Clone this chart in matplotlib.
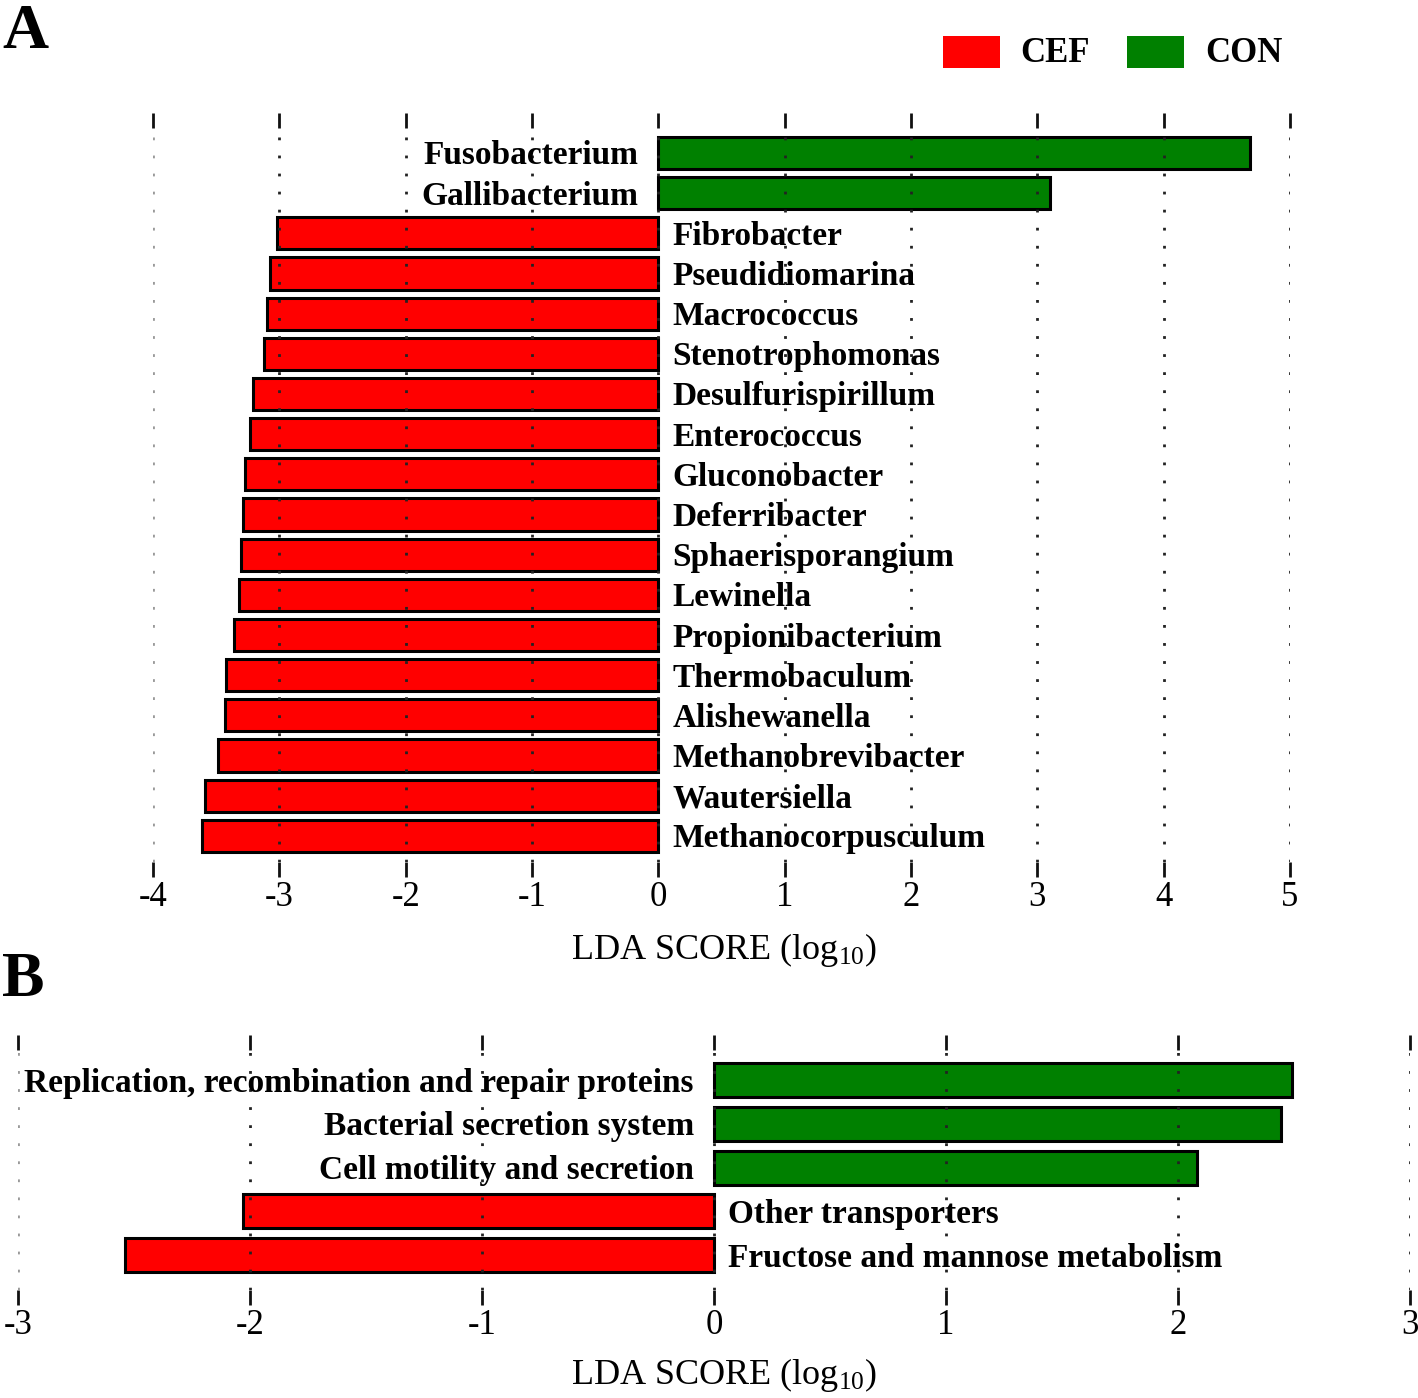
import matplotlib
matplotlib.use("Agg")
import matplotlib.pyplot as plt
from matplotlib.patches import Rectangle

plt.rcParams['font.family'] = ['Liberation Serif', 'DejaVu Serif']
plt.rcParams['mathtext.fontset'] = 'custom'
plt.rcParams['mathtext.rm'] = 'Liberation Serif'
plt.rcParams['mathtext.it'] = 'Liberation Serif:italic'

# ---- Data ----
genera = ["Fusobacterium", "Gallibacterium", "Fibrobacter", "Pseudidiomarina",
          "Macrococcus", "Stenotrophomonas", "Desulfurispirillum", "Enterococcus",
          "Gluconobacter", "Deferribacter", "Sphaerisporangium", "Lewinella",
          "Propionibacterium", "Thermobaculum", "Alishewanella",
          "Methanobrevibacter", "Wautersiella", "Methanocorpusculum"]
lda_genera = [4.68, 3.10, -3.02, -3.07, -3.10, -3.12, -3.21, -3.235, -3.27,
              -3.29, -3.30, -3.32, -3.36, -3.42, -3.43, -3.485, -3.59, -3.61]

pathways = ["Replication, recombination and repair proteins",
            "Bacterial secretion system", "Cell motility and secretion",
            "Other transporters", "Fructose and mannose metabolism"]
lda_pathways = [2.49, 2.445, 2.08, -2.03, -2.54]

ticks_a = [-4, -3, -2, -1, 0, 1, 2, 3, 4, 5]
ticks_b = [-3, -2, -1, 0, 1, 2, 3]
groups = ["CEF", "CON"]
colors = {"CEF": "#ff0000", "CON": "#008000"}

W, H = 1418, 1398
fig = plt.figure(figsize=(W / 100, H / 100), dpi=100)


def px_axes(x0, x1, y0, y1):
    return fig.add_axes([x0 / W, 1 - y1 / H, (x1 - x0) / W, (y1 - y0) / H])


def draw_panel(ax, names, vals, ticks, ylim, bar_h, fs):
    cols = [colors["CON"] if v > 0 else colors["CEF"] for v in vals]
    y = list(range(len(names)))
    ax.barh(y, vals, height=bar_h, color=cols, edgecolor='black', linewidth=2.2, zorder=2)
    ax.set_xlim(ticks[0], ticks[-1])
    ax.set_ylim(*ylim)
    ax.set_yticks([])
    ax.set_xticks(ticks)
    ax.set_xticklabels([str(t) for t in ticks], fontsize=25)
    for s in ax.spines.values():
        s.set_visible(False)
    ax.tick_params(axis='x', top=True, bottom=True, direction='out', length=11,
                   width=2.0, color='#111111', pad=3)
    for t in ticks:
        c = '#999999' if t == ticks[0] else '#222222'
        ax.axvline(t, color=c, linestyle=(0, (1.0, 5.5)), linewidth=2.0, zorder=3)
    for i, (n, v) in enumerate(zip(names, vals)):
        if v > 0:
            ax.annotate(n, xy=(0, i), xytext=(-20, -3), textcoords='offset pixels',
                        ha='right', va='center', fontsize=fs, fontweight='bold', zorder=4)
        else:
            ax.annotate(n, xy=(0, i), xytext=(14, -3), textcoords='offset pixels',
                        ha='left', va='center', fontsize=fs, fontweight='bold', zorder=4)


# Panel A
axA = px_axes(153, 1290, 128, 862)
draw_panel(axA, genera, lda_genera, ticks_a, (17 + 0.65, -0.62), 0.8, 24)
fig.text(724 / W, 1 - 950 / H, 'LDA SCORE (log$_{10}$)', ha='center', va='center', fontsize=26)

# Panel B
axB = px_axes(18, 1410, 1050, 1290)
draw_panel(axB, pathways, lda_pathways, ticks_b, (4 + 0.8, -0.69), 0.78, 24)
fig.text(724 / W, 1 - 1375 / H, 'LDA SCORE (log$_{10}$)', ha='center', va='center', fontsize=26)

# Panel letters
fig.text(2 / W, 1 - 4 / H, 'A', ha='left', va='top', fontsize=46, fontweight='bold')
fig.text(2 / W, 1 - 952 / H, 'B', ha='left', va='top', fontsize=46, fontweight='bold')

# Legend
leg_x = {"CEF": (943, 1020), "CON": (1127, 1205)}
for g in groups:
    bx, tx = leg_x[g]
    fig.patches.append(Rectangle((bx / W, 1 - 68 / H), 57 / W, 32 / H,
                                 transform=fig.transFigure, facecolor=colors[g],
                                 edgecolor='none'))
    fig.text(tx / W, 1 - 53 / H, g, ha='left', va='center', fontsize=25, fontweight='bold')

fig.savefig('out.png', dpi=100)
